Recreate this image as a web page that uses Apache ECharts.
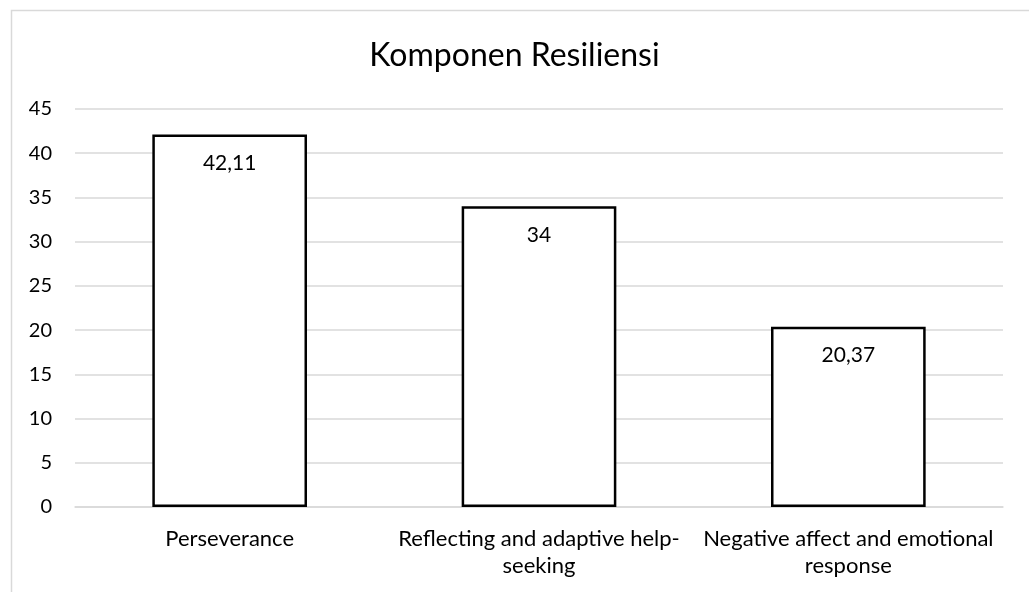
<!DOCTYPE html>
<html>
<head>
<meta charset="utf-8">
<script src="https://cdn.jsdelivr.net/npm/echarts@6/dist/echarts.min.js"></script>
<style>
  html, body { margin: 0; padding: 0; background: #fff; }
  #chart { width: 1029px; height: 592px; }
</style>
</head>
<body>
<div id="chart"></div>
<script>
  const title = 'Komponen Resiliensi';
  const categories = [
    'Perseverance',
    'Reflecting and adaptive help-\nseeking',
    'Negative affect and emotional\nresponse'
  ];
  const values = [42.11, 34, 20.37];
  const valueLabels = ['42,11', '34', '20,37'];

  const fontFamily = 'Lato, "Open Sans", sans-serif';
  const chart = echarts.init(document.getElementById('chart'), null, { renderer: 'canvas' });

  chart.setOption({
    animation: false,
    backgroundColor: '#fff',
    title: {
      text: title,
      left: 'center',
      top: 35,
      textStyle: { fontFamily, fontSize: 32, fontWeight: 'normal', color: '#000' }
    },
    graphic: [{
      type: 'rect',
      shape: { x: 11.5, y: 10.5, width: 1040, height: 600 },
      style: { fill: 'none', stroke: '#d9d9d9', lineWidth: 1.5 },
      silent: true
    }],
    grid: { left: 75, right: 26, top: 109, bottom: 85 },
    xAxis: {
      type: 'category',
      data: categories,
      axisLine: { show: true, lineStyle: { color: '#d9d9d9', width: 1.5 } },
      axisTick: { show: false },
      axisLabel: {
        fontFamily,
        fontSize: 22,
        color: '#000',
        margin: 18,
        lineHeight: 27,
        interval: 0
      }
    },
    yAxis: {
      type: 'value',
      min: 0,
      max: 45,
      interval: 5,
      axisLine: { show: false },
      axisTick: { show: false },
      splitLine: { lineStyle: { color: '#d9d9d9', width: 1.5 } },
      axisLabel: { fontFamily, fontSize: 20, color: '#000', margin: 23 }
    },
    series: [{
      type: 'bar',
      data: values,
      barWidth: '50%',
      itemStyle: { color: '#fff', borderColor: '#000', borderWidth: 2.5 },
      label: {
        show: true,
        position: 'insideTop',
        distance: 18,
        fontFamily,
        fontSize: 21,
        color: '#000',
        formatter: (p) => valueLabels[p.dataIndex]
      },
      emphasis: { disabled: true }
    }]
  });
</script>
</body>
</html>
